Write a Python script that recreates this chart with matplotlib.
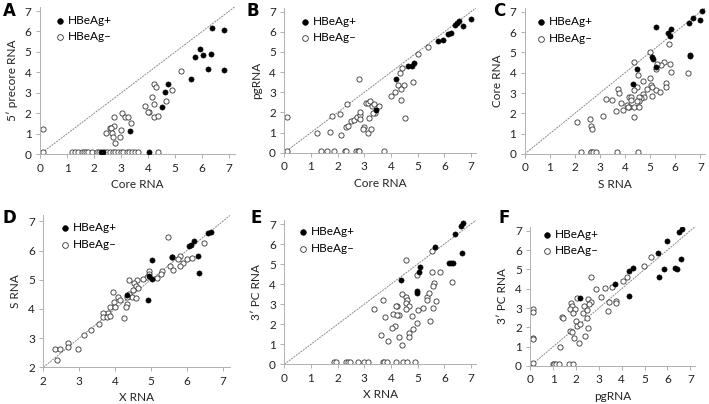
import matplotlib
matplotlib.use("Agg")
import matplotlib.pyplot as plt

plt.rcParams['font.family'] = ['Lato', 'DejaVu Sans']

# ---- data (log copies) ----
# A: Core RNA vs 5' precore RNA
a_pos_x = [6.36, 6.79, 5.93, 5.75, 6.04, 6.32, 6.2, 6.8, 5.58, 4.72, 4.64, 4.51, 3.33, 4.04, 2.25, 2.32]
a_pos_y = [6.17, 6.06, 5.15, 4.76, 4.85, 4.89, 4.17, 4.1, 3.68, 3.45, 3.06, 2.3, 1.12, 0.1, 0.1, 0.1]
a_neg_x = [0.1, 5.23, 4.23, 4.28, 4.88, 4.16, 4.67, 4.23, 3.88, 4.04, 3.99, 4.23, 4.36, 3.02,
           2.75, 3.16, 3.27, 3.35, 2.75, 2.59, 2.63, 2.99, 2.44, 2.65, 2.7, 2.96, 2.78,
           0.1, 1.17, 1.29, 1.42, 1.54, 1.63, 1.7, 1.79, 1.91, 2.1, 2.19, 2.4, 2.49, 2.59,
           2.69, 2.77, 2.9, 2.99, 3.08, 3.21, 3.3, 3.39, 3.51, 3.63, 4.37]
a_neg_y = [1.25, 4.09, 3.42, 3.3, 3.14, 2.82, 2.62, 2.46, 2.36, 2.08, 2.08, 1.81, 1.87, 2.04,
           1.84, 1.81, 1.81, 1.55, 1.38, 1.29, 1.29, 1.19, 1.06, 1.06, 0.83, 0.83, 0.54,
           0.1, 0.1, 0.1, 0.1, 0.1, 0.1, 0.1, 0.1, 0.1, 0.1, 0.1, 0.1, 0.1, 0.1,
           0.1, 0.1, 0.1, 0.1, 0.1, 0.1, 0.1, 0.1, 0.1, 0.1, 0.1]

# B: Core RNA vs pgRNA
b_pos_x = [7.0, 6.69, 6.56, 6.48, 6.4, 6.25, 6.14, 5.96, 5.76, 4.88, 4.78, 4.65, 4.2, 3.44]
b_pos_y = [6.62, 6.29, 6.56, 6.42, 6.34, 5.93, 5.88, 5.58, 5.53, 4.47, 4.32, 4.32, 3.66, 2.12]
b_neg_x = [0.09, 5.4, 5.03, 4.41, 4.35, 4.28, 4.49, 4.84, 4.36, 4.14, 4.01, 4.38, 4.53, 2.8,
           2.35, 2.1, 1.8, 1.21, 1.71, 2.13, 2.31, 2.4, 2.5, 2.6, 2.73, 2.84, 2.84, 3.06,
           3.15, 3.21, 3.29, 3.35, 3.56, 3.41, 3.34, 3.19, 2.84, 3.0, 2.96, 3.12, 3.25,
           0.1, 1.38, 1.59, 1.86, 2.29, 2.33, 2.69, 2.75, 2.8, 3.73]
b_neg_y = [1.75, 5.23, 4.9, 4.19, 3.97, 3.36, 3.36, 3.51, 3.16, 3.03, 2.8, 2.62, 1.74, 3.68,
           2.43, 1.94, 1.84, 0.96, 1.03, 0.89, 1.29, 1.32, 1.59, 1.62, 1.75, 1.87, 2.04, 2.45,
           2.45, 2.58, 2.32, 2.42, 2.32, 1.95, 1.95, 1.71, 1.66, 1.26, 1.16, 0.96, 1.16,
           0.1, 0.1, 0.1, 0.1, 0.1, 0.1, 0.1, 0.1, 0.1, 0.1]

# C: S RNA vs Core RNA
c_pos_x = [7.05, 6.72, 6.98, 6.55, 5.25, 5.84, 5.71, 5.79, 6.6, 6.58, 5.07, 5.11, 5.25, 4.46, 4.3]
c_pos_y = [7.03, 6.7, 6.57, 6.43, 6.26, 6.13, 5.97, 5.8, 4.89, 4.84, 4.79, 4.66, 4.3, 4.16, 3.44]
c_neg_x = [5.76, 4.98, 4.37, 5.54, 5.44, 5.29, 5.25, 5.79, 5.82, 6.49, 4.51, 4.98, 4.7, 5.64,
           5.64, 5.05, 5.07, 4.49, 4.37, 3.71, 3.74, 5.25, 5.41, 4.86, 5.07, 4.7, 4.74, 4.63,
           4.54, 4.57, 4.46, 4.14, 4.25, 4.25, 3.24, 3.48, 3.85, 4.06, 4.14, 4.12, 4.36, 4.54,
           3.64, 3.93, 4.36, 3.11, 2.1, 2.59, 2.63, 2.68,
           2.26, 2.63, 2.66, 2.71, 2.84, 3.68, 4.51]
c_neg_y = [5.41, 5.03, 4.52, 4.52, 4.36, 4.41, 4.16, 4.41, 4.05, 4.0, 3.9, 3.72, 3.61, 3.48,
           3.28, 3.38, 3.28, 3.3, 3.15, 3.18, 2.98, 3.15, 3.07, 3.18, 2.85, 2.95, 2.82, 2.74,
           2.82, 2.62, 2.61, 2.82, 2.82, 2.66, 2.72, 2.66, 2.52, 2.41, 2.33, 2.3, 2.3, 2.33,
           2.13, 2.16, 1.8, 1.87, 1.57, 1.74, 1.38, 1.21,
           0.1, 0.1, 0.1, 0.1, 0.1, 0.1, 0.1]

# D: X RNA vs S RNA
d_pos_x = [6.6, 6.66, 6.19, 6.11, 6.07, 6.3, 6.34, 5.58, 5.02, 5.04, 4.94, 4.34, 4.92]
d_pos_y = [6.59, 6.64, 6.34, 6.19, 6.15, 5.81, 5.24, 5.77, 5.67, 5.02, 5.13, 4.48, 4.3]
d_neg_x = [5.47, 6.48, 5.81, 5.58, 6.0, 5.76, 5.88, 5.81, 5.53, 5.62, 6.14, 5.3, 5.28, 5.16,
           4.95, 4.95, 4.88, 4.79, 4.62, 4.4, 4.53, 4.58, 4.65, 4.51, 4.4, 4.46, 4.58, 4.32,
           4.09, 4.14, 3.95, 3.98, 3.86, 4.0, 3.81, 3.65, 3.67, 3.77, 3.86, 4.32, 4.3, 4.25,
           3.56, 3.32, 3.12, 2.96, 2.7, 2.7, 2.33, 2.46, 2.37]
d_neg_y = [6.47, 6.25, 5.82, 5.79, 5.7, 5.7, 5.58, 5.47, 5.47, 5.33, 5.73, 5.31, 5.2, 5.05,
           5.31, 5.2, 5.08, 5.03, 4.99, 4.99, 4.88, 4.79, 4.71, 4.65, 4.51, 4.42, 4.36, 4.42,
           4.42, 4.3, 4.59, 4.25, 4.08, 4.08, 3.85, 3.85, 3.71, 3.71, 3.74, 4.17, 4.05, 3.68,
           3.5, 3.28, 3.11, 2.62, 2.84, 2.71, 2.63, 2.63, 2.25]

# E: X RNA vs 3' PC RNA
e_pos_x = [6.69, 6.63, 6.41, 6.66, 5.65, 6.16, 6.25, 6.34, 5.09, 5.06, 4.38, 4.99, 4.96]
e_pos_y = [7.07, 6.92, 6.5, 5.54, 5.87, 5.07, 5.07, 5.04, 4.87, 4.59, 4.21, 3.66, 3.54]
e_neg_x = [4.56, 5.54, 5.52, 5.84, 4.99, 6.3, 5.61, 5.57, 3.71, 4.4, 4.55, 4.61, 4.55, 5.36,
           5.34, 5.68, 5.43, 4.21, 4.18, 4.69, 3.37, 4.55, 5.21, 5.56, 5.02, 4.06, 4.3, 4.21,
           3.78, 4.8, 5.46, 4.99, 4.15, 4.03, 4.81, 4.69, 4.67, 4.31, 3.61, 3.88, 4.43,
           1.88, 1.92, 2.33, 2.4, 2.47, 2.75, 3.0, 3.15, 3.69, 3.75, 3.85, 4.19, 4.44, 4.6, 4.9]
e_neg_y = [5.2, 5.67, 4.62, 4.59, 4.44, 4.09, 4.04, 3.91, 3.22, 3.51, 3.34, 3.21, 3.07, 3.34,
           3.21, 3.17, 3.54, 2.92, 2.92, 2.91, 2.78, 2.76, 2.83, 2.83, 2.71, 2.51, 2.46, 2.47,
           2.35, 2.41, 2.18, 2.08, 1.91, 1.81, 1.75, 1.55, 1.38, 1.38, 1.45, 1.18, 0.96,
           0.1, 0.1, 0.1, 0.1, 0.1, 0.1, 0.1, 0.1, 0.1, 0.1, 0.1, 0.1, 0.1, 0.1, 0.1]

# F: pgRNA vs 3' PC RNA
f_pos_x = [6.64, 6.52, 5.97, 5.57, 6.58, 5.86, 6.33, 6.4, 5.62, 4.33, 4.51, 3.72, 4.33, 2.17]
f_pos_y = [7.07, 6.92, 6.48, 5.83, 5.52, 5.0, 5.05, 5.0, 4.59, 4.93, 5.09, 4.23, 3.62, 3.52]
f_neg_x = [5.29, 4.96, 4.23, 4.04, 3.57, 3.25, 2.87, 2.67, 3.76, 3.75, 3.4, 3.43, 3.1, 2.51,
           2.65, 2.55, 2.33, 2.04, 1.79, 1.82, 1.72, 1.97, 1.87, 2.29, 2.48, 2.48, 1.38, 1.41,
           2.0, 2.04, 2.19, 2.51, 1.72, 1.82, 1.92, 2.11, 2.41, 1.31, 0.12, 0.12, 0.12, 0.12,
           0.12, 0.99, 1.05, 1.14, 1.27, 1.68, 1.85]
f_neg_y = [5.62, 5.17, 4.59, 4.41, 4.07, 4.05, 3.97, 4.59, 3.38, 3.24, 2.86, 3.29, 3.55, 3.45,
           3.33, 3.21, 3.1, 3.5, 3.24, 3.1, 2.93, 2.93, 2.72, 2.72, 2.9, 2.47, 2.52, 2.48,
           2.34, 2.07, 2.17, 1.95, 1.83, 1.74, 1.43, 1.17, 1.55, 1.0, 2.93, 2.79, 1.45, 1.4,
           0.14, 0.1, 0.1, 0.1, 0.1, 0.1, 0.1]

panels = [
    # letter, xlabel, ylabel, low, pos, neg,
    # (x_px at low, px/unit, y_px at low, px/unit), legend marker px, letter px
    ('A', 'Core RNA', '5\u2032 precore RNA', 0, (a_pos_x, a_pos_y), (a_neg_x, a_neg_y),
     (40, 27.04, 154.3, 20.47), (61, 22), (3, 11)),
    ('B', 'Core RNA', 'pgRNA', 0, (b_pos_x, b_pos_y), (b_neg_x, b_neg_y),
     (284.3, 26.67, 152.7, 20.14), (306, 22.7), (246, 11)),
    ('C', 'S RNA', 'Core RNA', 0, (c_pos_x, c_pos_y), (c_neg_x, c_neg_y),
     (524.7, 25.1, 154, 20.33), (542, 23.3), (493, 11)),
    ('D', 'X RNA', 'S RNA', 2, (d_pos_x, d_pos_y), (d_neg_x, d_neg_y),
     (43.3, 35.9, 367.3, 29.2), (65.7, 229.3), (2, 218)),
    ('E', 'X RNA', '3\u2032 PC RNA', 0, (e_pos_x, e_pos_y), (e_neg_x, e_neg_y),
     (284.3, 26.67, 364.3, 20.04), (303.7, 233.3), (251, 218)),
    ('F', 'pgRNA', '3\u2032 PC RNA', 0, (f_pos_x, f_pos_y), (f_neg_x, f_neg_y),
     (530.3, 22.86, 366, 19.33), (548, 235.7), (499, 218)),
]

W, H = 709, 404
fig = plt.figure(figsize=(W / 100, H / 100), dpi=100)
top = 7.2

for letter, xlab, ylab, low, pos, neg, (x0, xs, y0, ys), (mx, my), (lx, ly) in panels:
    w = (top - low) * xs
    h = (top - low) * ys
    ax = fig.add_axes([x0 / W, (H - y0) / H, w / W, h / H])
    ax.plot([low, top], [low, top], color='#8a8a8a', lw=0.7, ls=(0, (2, 1)), zorder=1)
    ax.scatter(pos[0], pos[1], s=14, c='black', edgecolors='black', linewidths=0.4,
               zorder=3, label='HBeAg+')
    ax.scatter(neg[0], neg[1], s=14, facecolors='white', edgecolors='#333333',
               linewidths=0.6, zorder=2, label='HBeAg\u2013')
    ax.set_xlim(low, top)
    ax.set_ylim(low, top)
    ax.set_xticks(range(low, 8))
    ax.set_yticks(range(low, 8))
    for s in ['top', 'right']:
        ax.spines[s].set_visible(False)
    for s in ['left', 'bottom']:
        ax.spines[s].set_color('#b0b0b0')
        ax.spines[s].set_linewidth(0.7)
    ax.tick_params(colors='#b0b0b0', labelcolor='#222222', labelsize=8.5,
                   length=3, width=0.7, pad=3)
    ax.set_xlabel(xlab, fontsize=8.5, color='#222222', labelpad=4)
    ax.set_ylabel(ylab, fontsize=8.5, color='#222222', labelpad=5)
    ax.legend(loc='upper left',
              bbox_to_anchor=((mx - 8 - x0) / w, (y0 - (my - 7)) / h),
              frameon=False, fontsize=8.5, handletextpad=0.1, labelspacing=0.45,
              borderpad=0, borderaxespad=0, handlelength=1.2, markerscale=1.1)
    fig.text(lx / W, 1 - ly / H, letter, fontsize=12, fontweight='bold',
             family='DejaVu Sans', va='center', ha='left')

fig.savefig('out.png', dpi=100)
